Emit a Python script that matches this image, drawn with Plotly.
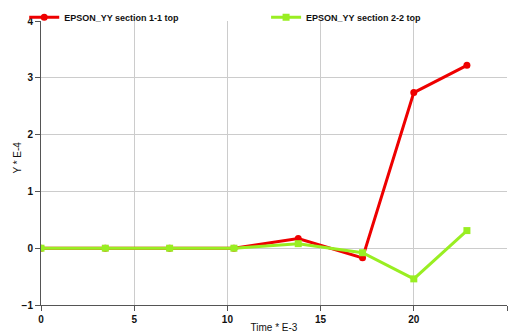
import plotly.graph_objects as go

# Time samples (x 1e-3) and section strains (x 1e-4)
time_e3 = [0.0, 3.45, 6.9, 10.35, 13.8, 17.25, 20.0, 22.85]
yy_section_1_1 = [0.0, 0.0, 0.0, 0.0, 0.17, -0.17, 2.74, 3.22]
yy_section_2_2 = [0.0, 0.0, 0.0, 0.0, 0.08, -0.08, -0.54, 0.31]

series_names = ["EPSON_YY section 1-1 top", "EPSON_YY section 2-2 top"]
x_ticks = [0, 5, 10, 15, 20, 25]
y_ticks = [-1, 0, 1, 2, 3, 4]

FONT = "Liberation Sans, Arial, sans-serif"

fig = go.Figure()
fig.add_trace(go.Scatter(
    x=time_e3, y=yy_section_1_1, name=series_names[0], mode="lines+markers",
    line=dict(color="#ee0000", width=3),
    marker=dict(symbol="circle", size=7, color="#ee0000"),
    legend="legend",
))
fig.add_trace(go.Scatter(
    x=time_e3, y=yy_section_2_2, name=series_names[1], mode="lines+markers",
    line=dict(color="#99ee22", width=3),
    marker=dict(symbol="square", size=7, color="#99ee22"),
    legend="legend2",
))

axis_common = dict(
    showgrid=True, gridcolor="#cccccc", gridwidth=1,
    showline=True, linecolor="#555555", linewidth=1,
    ticks="outside", ticklen=5, tickcolor="#555555",
    zeroline=False,
    tickfont=dict(family=FONT, size=10, color="#111111", weight="bold"),
)

legend_font = dict(family=FONT, size=9, color="#111111", weight="bold")

fig.update_layout(
    width=511, height=333,
    margin=dict(l=41, r=4, t=21, b=28, autoexpand=False),
    paper_bgcolor="white", plot_bgcolor="white",
    xaxis=dict(range=[0, 25], tickvals=x_ticks, **axis_common,
               title=dict(text="Time * E-3", standoff=0,
                          font=dict(family=FONT, size=10, color="#111111"))),
    yaxis=dict(range=[-1, 4], tickvals=y_ticks, **axis_common),
    legend=dict(x=-0.036, y=0.962, xanchor="left", yanchor="bottom",
                orientation="h", bgcolor="rgba(0,0,0,0)", itemwidth=30,
                font=legend_font),
    legend2=dict(x=0.483, y=0.962, xanchor="left", yanchor="bottom",
                 orientation="h", bgcolor="rgba(0,0,0,0)", itemwidth=30,
                 font=legend_font),
    showlegend=True,
    annotations=[dict(
        text="Y * E-4", textangle=-90, showarrow=False,
        xref="paper", yref="paper", x=-0.050, y=0.518,
        xanchor="center", yanchor="middle",
        font=dict(family=FONT, size=10, color="#111111"),
    )],
)

fig.write_html("out.html")
